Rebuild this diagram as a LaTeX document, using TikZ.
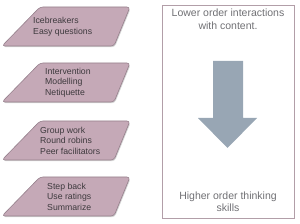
\documentclass[tikz,border=0pt]{standalone}
\usepackage{fontspec}
\setmainfont{Liberation Sans}
\usetikzlibrary{positioning,shadows}
\definecolor{stepmauve}{RGB}{197,169,183}
\definecolor{stepedge}{RGB}{150,128,140}
\definecolor{steptext}{RGB}{62,58,62}
\definecolor{boxedge}{RGB}{178,158,168}
\definecolor{boxtext}{RGB}{112,112,116}
\definecolor{arrowgray}{RGB}{152,166,180}
\tikzset{
    stepshape/.style={draw=stepedge, fill=stepmauve, line width=0.6pt, rounded corners=3pt,
        drop shadow={shadow xshift=0.8pt, shadow yshift=-1.2pt, opacity=0.35}},
    steplabel/.style={anchor=west, align=left, text=steptext, font=\fontsize{8.7}{10.6}\selectfont, inner sep=0pt},
    scalebox/.style={draw=boxedge, line width=0.6pt},
    scalelabel/.style={align=center, text=boxtext, font=\fontsize{10.5}{12.5}\selectfont, inner sep=0pt},
    bigarrow/.style={fill=arrowgray},
}
\begin{document}
\begin{tikzpicture}[x=1pt,y=-1pt]
    \useasboundingbox (0,0) rectangle (300,224);
    % Left column of steps
    \foreach \i/\ytop/\xt/\txt in {1/7/33/{Icebreakers\\Easy questions},
        2/63/45/{Intervention\\Modelling\\Netiquette},
        3/121/40/{Group work\\Round robins\\Peer facilitators},
        4/177/47/{Step back\\Use ratings\\Summarize}} {
        \pgfmathsetmacro{\ybot}{\ytop+39}
        \pgfmathsetmacro{\ymid}{\ytop+19.5}
        \draw[stepshape] (40,\ytop) -- (130,\ytop) -- (114,\ybot) -- (2,\ybot) -- cycle;
        \node[steplabel] (step\i) at (\xt,\ymid) {\txt};
    }
    % Right column
    \draw[scalebox] (162,5) rectangle (294,218);
    \node[scalelabel, anchor=north] (low) at (228,9) {Lower order interactions\\with content.};
    \node[scalelabel, anchor=south] (high) at (228,212) {Higher order thinking\\skills};
    % Arrow
    \fill[bigarrow] (213,61) -- (243,61) -- (243,118) -- (257,118) -- (227.5,148) -- (198,118) -- (213,118) -- cycle;
\end{tikzpicture}
\end{document}
